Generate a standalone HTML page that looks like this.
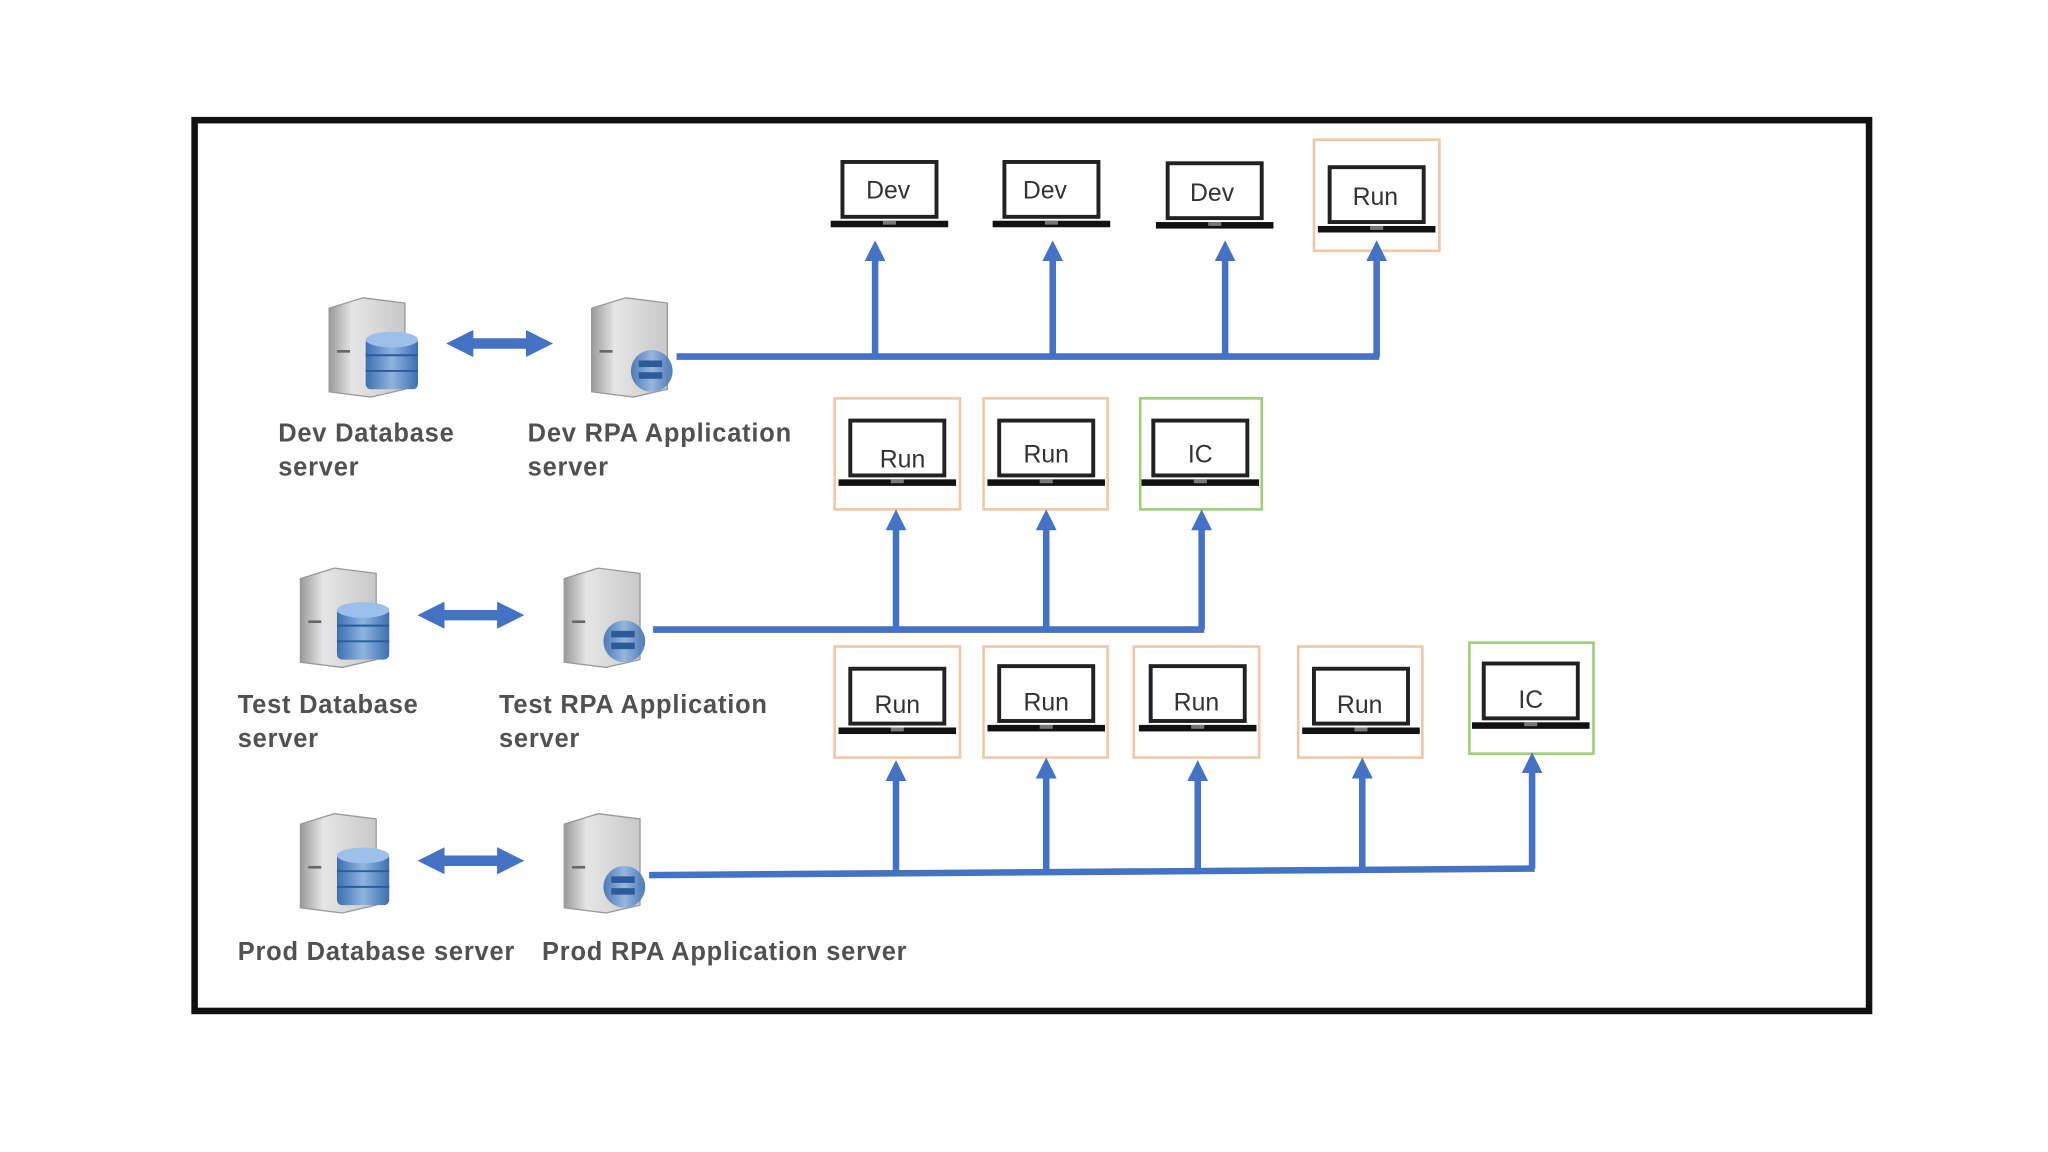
<!DOCTYPE html>
<html><head><meta charset="utf-8"><style>
html,body{margin:0;padding:0;background:#fff;width:2048px;height:1152px;overflow:hidden}
svg{display:block}
text{font-family:"Liberation Sans",sans-serif}
</style></head><body>
<svg width="2048" height="1152" viewBox="0 0 1568 882" xmlns="http://www.w3.org/2000/svg">
<defs>
<linearGradient id="tw" x1="0" x2="1"><stop offset="0" stop-color="#9a9a9a"/><stop offset="0.3" stop-color="#e6e6e6"/><stop offset="1" stop-color="#c8c8c8"/></linearGradient>
<linearGradient id="db" x1="0" x2="1"><stop offset="0" stop-color="#3d6fb0"/><stop offset="0.5" stop-color="#8fb4e0"/><stop offset="1" stop-color="#3d6fb0"/></linearGradient>
<marker id="ah" viewBox="0 0 10 10" refX="5" refY="5" markerWidth="3.2" markerHeight="3.2" orient="auto-start-reverse"><path d="M0,0L10,5L0,10z" fill="#4472c4"/></marker>
<marker id="ah2" viewBox="0 0 10 10" refX="5" refY="5" markerWidth="2.6" markerHeight="2.6" orient="auto-start-reverse"><path d="M0,0L10,5L0,10z" fill="#4472c4"/></marker>
<g id="lap">
<rect x="-36" y="0" width="72" height="42" fill="#fff" stroke="#222" stroke-width="3"/>
<rect x="-45" y="45" width="90" height="5" fill="#111"/>
<rect x="-5" y="45" width="10" height="3" fill="#777"/>
</g>
<g id="tower">
<path d="M4,8 L30,0 L62,4 L62,70 L36,76 L4,72 Z" fill="url(#tw)" stroke="#999" stroke-width="1"/>
<rect x="10" y="40" width="10" height="2" fill="#666"/>
</g>
<g id="dbs"><use href="#tower"/>
<rect x="32" y="30" width="40" height="40" rx="4" fill="url(#db)"/>
<ellipse cx="52" cy="32" rx="20" ry="6" fill="#9cc0ea"/>
<line x1="32" y1="44" x2="72" y2="44" stroke="#2d5a99" stroke-width="1.5"/>
<line x1="32" y1="56" x2="72" y2="56" stroke="#2d5a99" stroke-width="1.5"/>
</g>
<g id="app"><use href="#tower"/>
<circle cx="50" cy="56" r="16" fill="url(#db)" opacity="0.9"/>
<rect x="40" y="48" width="18" height="5" fill="#2d5a99"/><rect x="40" y="57" width="18" height="5" fill="#2d5a99"/>
</g>
</defs>
<rect x="149" y="92" width="1282" height="682" fill="#fff" stroke="#111" stroke-width="5"/>

<g fill="none" stroke-width="2">
<rect x="1006" y="107" width="96" height="85" stroke="#f0c8a8"/>
<rect x="639" y="305" width="96" height="85" stroke="#f0c8a8"/>
<rect x="753" y="305" width="95" height="85" stroke="#f0c8a8"/>
<rect x="873" y="305" width="93" height="85" stroke="#9ed07a"/>
<rect x="639" y="495" width="96" height="85" stroke="#f0c8a8"/>
<rect x="753" y="495" width="95" height="85" stroke="#f0c8a8"/>
<rect x="868" y="495" width="96" height="85" stroke="#f0c8a8"/>
<rect x="994" y="495" width="95" height="85" stroke="#f0c8a8"/>
<rect x="1125" y="492" width="95" height="85" stroke="#9ed07a"/>
</g>

<g font-size="19" fill="#333" text-anchor="middle">
<use href="#lap" x="681" y="124"/><text x="680" y="152">Dev</text>
<use href="#lap" x="805" y="124"/><text x="800" y="152">Dev</text>
<use href="#lap" x="930" y="125"/><text x="928" y="154">Dev</text>
<use href="#lap" x="1054" y="128"/><text x="1053" y="157">Run</text>
<use href="#lap" x="687" y="322"/><text x="691" y="358">Run</text>
<use href="#lap" x="801" y="322"/><text x="801" y="354">Run</text>
<use href="#lap" x="919" y="322"/><text x="919" y="354">IC</text>
<use href="#lap" x="687" y="512"/><text x="687" y="546">Run</text>
<use href="#lap" x="801" y="510"/><text x="801" y="544">Run</text>
<use href="#lap" x="917" y="510"/><text x="916" y="544">Run</text>
<use href="#lap" x="1042" y="512"/><text x="1041" y="546">Run</text>
<use href="#lap" x="1172" y="508"/><text x="1172" y="542">IC</text>
</g>

<g stroke="#4472c4" stroke-width="5" fill="none">
<line x1="518" y1="273" x2="1056" y2="273"/>
<line x1="670" y1="273" x2="670" y2="192" marker-end="url(#ah)"/>
<line x1="806" y1="273" x2="806" y2="192" marker-end="url(#ah)"/>
<line x1="938" y1="273" x2="938" y2="192" marker-end="url(#ah)"/>
<line x1="1054" y1="273" x2="1054" y2="192" marker-end="url(#ah)"/>
<line x1="500" y1="482" x2="922" y2="482"/>
<line x1="686" y1="482" x2="686" y2="398" marker-end="url(#ah)"/>
<line x1="801" y1="482" x2="801" y2="398" marker-end="url(#ah)"/>
<line x1="920" y1="482" x2="920" y2="398" marker-end="url(#ah)"/>
<line x1="497" y1="670" x2="1175" y2="665"/>
<line x1="686" y1="669" x2="686" y2="590" marker-end="url(#ah)"/>
<line x1="801" y1="668" x2="801" y2="588" marker-end="url(#ah)"/>
<line x1="917" y1="667" x2="917" y2="590" marker-end="url(#ah)"/>
<line x1="1043" y1="666" x2="1043" y2="588" marker-end="url(#ah)"/>
<line x1="1173" y1="665" x2="1173" y2="584" marker-end="url(#ah)"/>
<line x1="352" y1="263" x2="413" y2="263" stroke-width="8" marker-start="url(#ah2)" marker-end="url(#ah2)"/>
<line x1="330" y1="471" x2="391" y2="471" stroke-width="8" marker-start="url(#ah2)" marker-end="url(#ah2)"/>
<line x1="330" y1="659" x2="391" y2="659" stroke-width="8" marker-start="url(#ah2)" marker-end="url(#ah2)"/>
</g>

<use href="#dbs" x="248" y="228"/>
<use href="#app" x="449" y="228"/>
<use href="#dbs" x="226" y="435"/>
<use href="#app" x="428" y="435"/>
<use href="#dbs" x="226" y="623"/>
<use href="#app" x="428" y="623"/>

<g font-size="19.5" fill="#333" font-weight="bold" opacity="0.85" letter-spacing="0.6">
<text x="213" y="338">Dev Database</text><text x="213" y="364">server</text>
<text x="404" y="338">Dev RPA Application</text><text x="404" y="364">server</text>
<text x="182" y="546">Test Database</text><text x="182" y="572">server</text>
<text x="382" y="546">Test RPA Application</text><text x="382" y="572">server</text>
<text x="182" y="735">Prod Database server</text>
<text x="415" y="735">Prod RPA Application server</text>
</g>
</svg>
</body></html>
